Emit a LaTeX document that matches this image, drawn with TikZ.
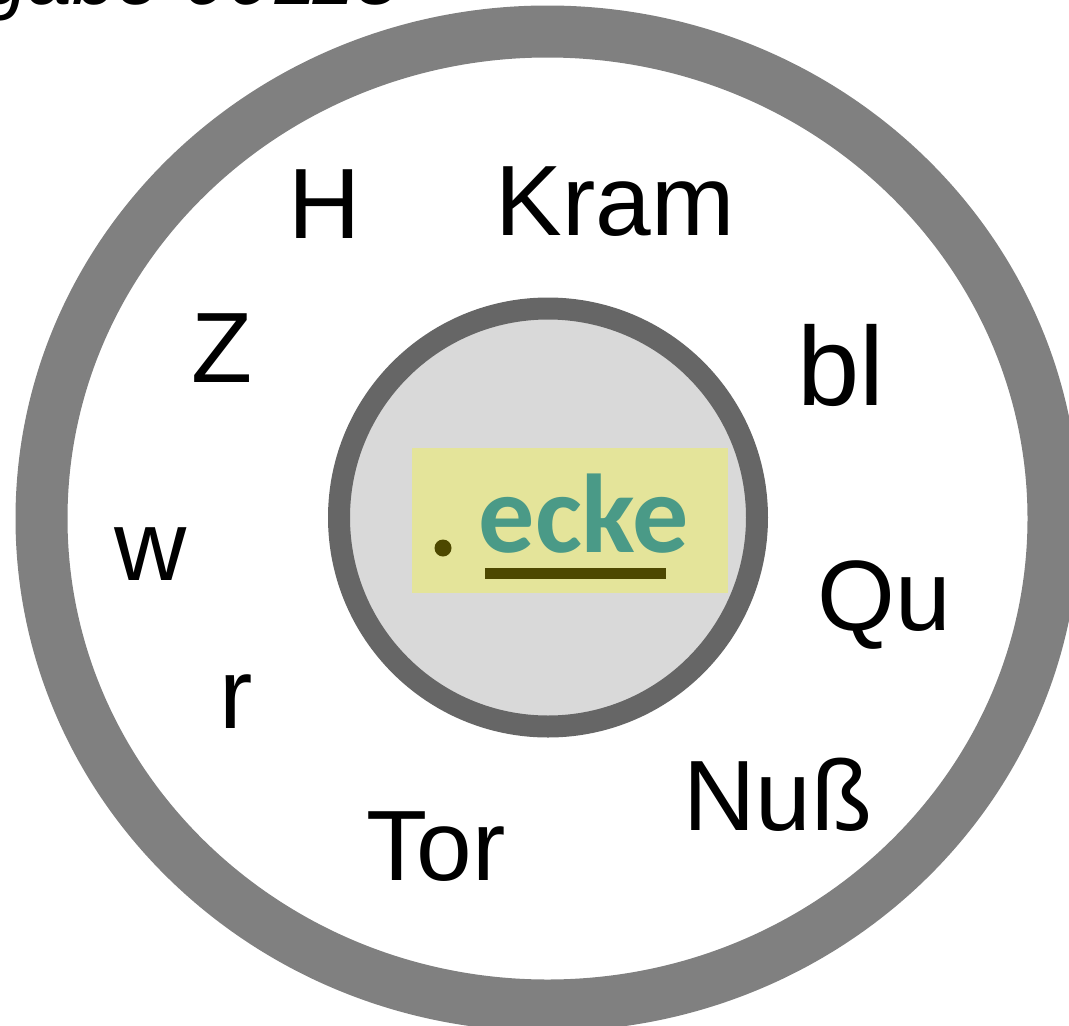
\documentclass[tikz,border=0pt]{standalone}
\usepackage{fontspec}
\setmainfont{Liberation Sans}
\newfontfamily\calib{Carlito}[BoldFont={Carlito Bold}]
\definecolor{ringgray}{RGB}{128,128,128}
\definecolor{innerstroke}{RGB}{102,102,102}
\definecolor{innerfill}{RGB}{217,217,217}
\definecolor{hlyellow}{RGB}{228,228,154}
\definecolor{tealtxt}{RGB}{74,154,135}
\definecolor{olive}{RGB}{77,72,0}
\tikzset{
  word/.style={anchor=base, inner sep=0pt, font=\fontsize{100}{120}\selectfont, text=black},
}
\begin{document}
\begin{tikzpicture}[x=1pt,y=-1pt]
\useasboundingbox (0,0) rectangle (1069,1026);
% header text (mostly cut off at top)
\node[anchor=base east, inner sep=0pt, font=\fontsize{80}{96}\selectfont\itshape] (hdr) at (400,4) {Aufgabe 00115};
% outer ring
\coordinate (c) at (547.5,518.5);
\draw[ringgray, line width=52pt] (c) ellipse [x radius=506, y radius=487];
% inner disc
\coordinate (ci) at (548,517.5);
\draw[innerstroke, fill=innerfill, line width=22pt] (ci) circle [radius=209];
% highlight box
\fill[hlyellow] (412,448) rectangle (728,593);
\node[anchor=base, inner sep=0pt, text=tealtxt, font=\calib\bfseries\fontsize{112}{130}\selectfont] (ecke) at (584,552) {ecke};
\fill[olive] (443,548) circle [radius=8.5];
\coordinate (ul1) at (485,573);
\coordinate (ul2) at (666,573);
\draw[olive, line width=11pt] (ul1) -- (ul2);
% words in the ring
\node[word] (H) at (325,238) {H};
\node[word] (Kram) at (615,235) {Kram};
\node[word] (Z) at (222,382) {Z};
\node[word] (w) at (151,580) {w};
\node[word] (r) at (236,728) {r};
\node[word] (Tor) at (436,880) {Tor};
\node[word] (Nuss) at (778,830) {Nuß};
\node[word] (Qu) at (884,630) {Qu};
\node[word, font=\fontsize{112}{130}\selectfont] (bl) at (841,405) {bl};
\end{tikzpicture}
\end{document}
